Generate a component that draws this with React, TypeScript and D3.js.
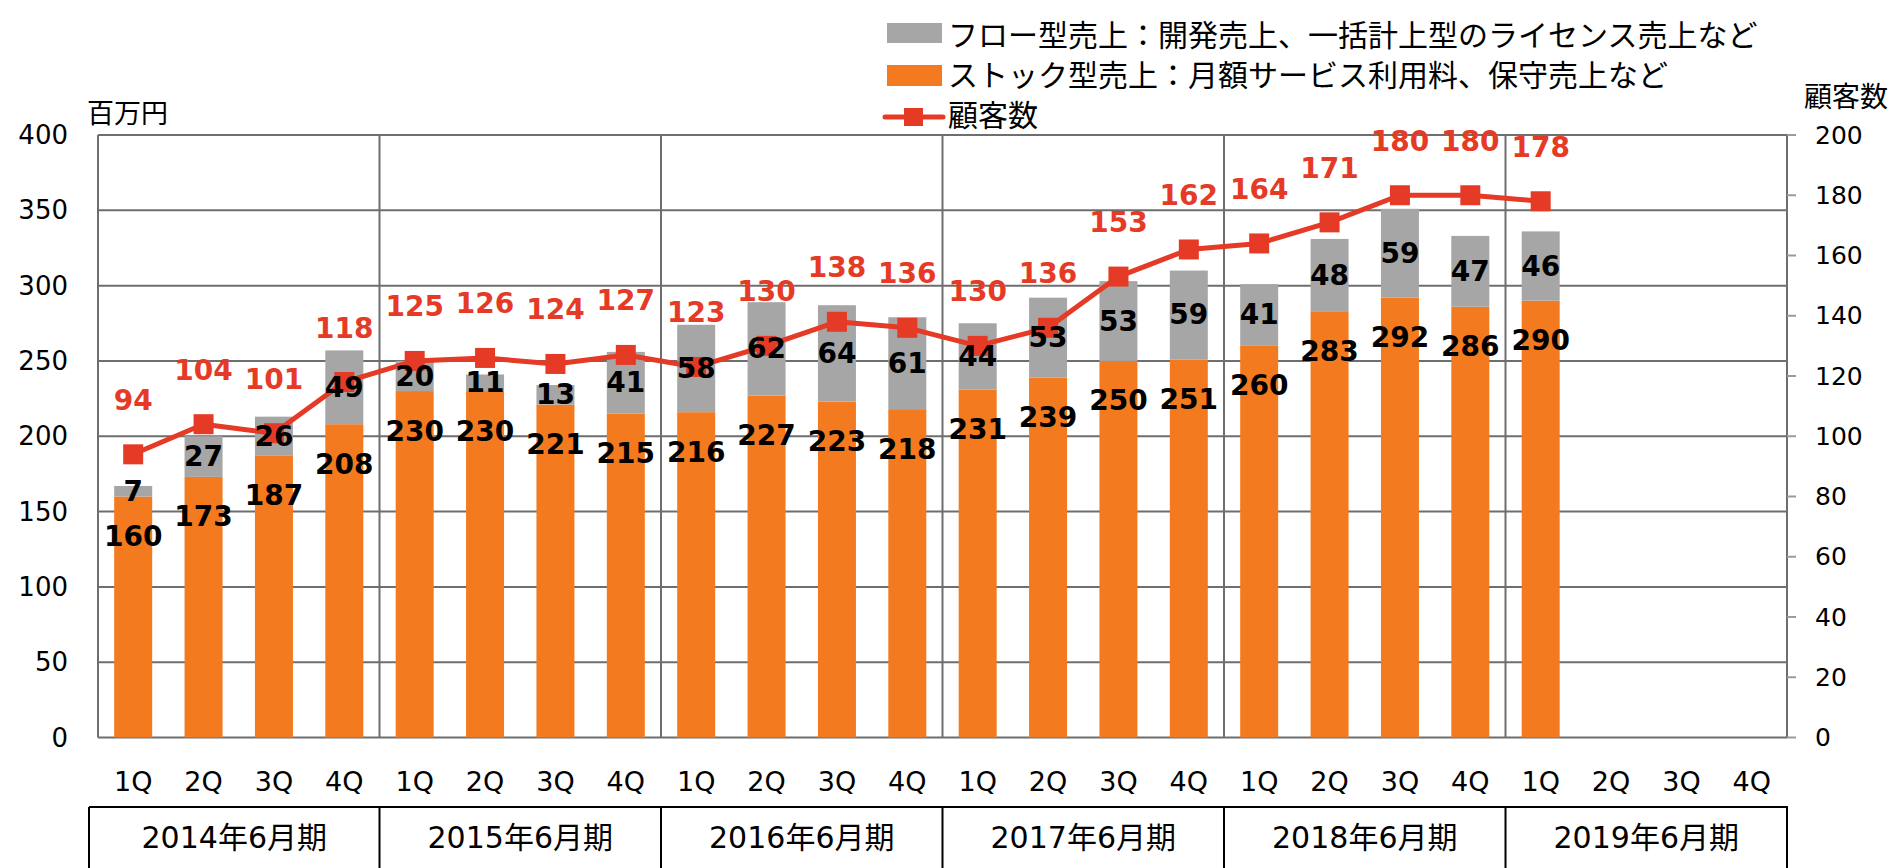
import React from "react";
import * as d3 from "d3";

const years = ["2014年6月期", "2015年6月期", "2016年6月期", "2017年6月期", "2018年6月期", "2019年6月期"];
const quarters = ["1Q", "2Q", "3Q", "4Q"];
const stockSales = [160, 173, 187, 208, 230, 230, 221, 215, 216, 227, 223, 218, 231, 239, 250, 251, 260, 283, 292, 286, 290];
const flowSales = [7, 27, 26, 49, 20, 11, 13, 41, 58, 62, 64, 61, 44, 53, 53, 59, 41, 48, 59, 47, 46];
const customers = [94, 104, 101, 118, 125, 126, 124, 127, 123, 130, 138, 136, 130, 136, 153, 162, 164, 171, 180, 180, 178];
const leftTicks = [0, 50, 100, 150, 200, 250, 300, 350, 400];
const rightTicks = [0, 20, 40, 60, 80, 100, 120, 140, 160, 180, 200];
const legendItems = [
  "フロー型売上：開発売上、一括計上型のライセンス売上など",
  "ストック型売上：月額サービス利用料、保守売上など",
  "顧客数",
];

const W = 1893;
const H = 868;
const GRAY = "#a6a6a6";
const ORANGE = "#f47a20";
const RED = "#e53a26";
const GRID = "#6e6e6e";
const FONT = "'DejaVu Sans', 'Noto Sans CJK JP', sans-serif";
const JFONT = "'Noto Sans CJK JP', 'DejaVu Sans', sans-serif";

export default function App() {
  const slots = d3.range(years.length * quarters.length);
  const left = 98, right = 1787, top = 135, bottom = 737.5;
  const pi = 0.46;
  const x = d3.scaleBand<number>().domain(slots).range([left, right]).paddingInner(pi).paddingOuter(pi / 2);
  const yL = d3.scaleLinear().domain([0, 400]).range([bottom, top]);
  const yR = d3.scaleLinear().domain([0, 200]).range([bottom, top]);
  const bw = x.bandwidth();
  const step = x.step();
  const cx = (i: number) => (x(i) as number) + bw / 2;
  const yearEdge = (k: number) => left + k * 4 * step;

  const line = d3.line<number>().x((_, i) => cx(i)).y((d) => yR(d));

  const tableTop = 807;
  const tableLeft = 89;

  return (
    <svg width={W} height={H} style={{ position: "absolute", left: 0, top: 0, background: "#fff" }}>
      {leftTicks.map((t) => (
        <line key={"g" + t} x1={left} x2={right} y1={yL(t)} y2={yL(t)} stroke={GRID} strokeWidth={2} />
      ))}
      {d3.range(years.length + 1).map((k) => (
        <line key={"v" + k} x1={yearEdge(k)} x2={yearEdge(k)} y1={top} y2={bottom} stroke={GRID} strokeWidth={2} />
      ))}
      {rightTicks.map((t) => (
        <line key={"rt" + t} x1={right} x2={right + 9} y1={yR(t)} y2={yR(t)} stroke="#9a9a9a" strokeWidth={2} />
      ))}
      {stockSales.map((v, i) => (
        <g key={"b" + i}>
          <rect x={x(i)} width={bw} y={yL(v)} height={yL(0) - yL(v)} fill={ORANGE} />
          <rect x={x(i)} width={bw} y={yL(v + flowSales[i])} height={yL(v) - yL(v + flowSales[i])} fill={GRAY} />
        </g>
      ))}
      <path d={line(customers) || ""} fill="none" stroke={RED} strokeWidth={5} strokeLinejoin="round" />
      {customers.map((v, i) => (
        <rect key={"m" + i} x={cx(i) - 10} y={yR(v) - 10} width={20} height={20} fill={RED} />
      ))}
      {stockSales.map((v, i) => (
        <text key={"sl" + i} x={cx(i)} y={yL(v) + 40} textAnchor="middle" dominantBaseline="central"
          fontFamily={FONT} fontWeight="bold" fontSize={28} fill="#000">{v}</text>
      ))}
      {flowSales.map((v, i) => (
        <text key={"fl" + i} x={cx(i)} y={yL(stockSales[i] + v / 2)} textAnchor="middle" dominantBaseline="central"
          fontFamily={FONT} fontWeight="bold" fontSize={28} fill="#000">{v}</text>
      ))}
      {customers.map((v, i) => (
        <text key={"cl" + i} x={cx(i)} y={yR(v) - 54} textAnchor="middle" dominantBaseline="central"
          fontFamily={FONT} fontWeight="bold" fontSize={28} fill={RED}>{v}</text>
      ))}
      {leftTicks.map((t) => (
        <text key={"lt" + t} x={68} y={yL(t)} textAnchor="end" dominantBaseline="central"
          fontFamily={FONT} fontSize={26} fill="#000">{t}</text>
      ))}
      {rightTicks.map((t) => (
        <text key={"rl" + t} x={1815} y={yR(t)} textAnchor="start" dominantBaseline="central"
          fontFamily={FONT} fontSize={25} fill="#000">{t}</text>
      ))}
      <text x={87} y={111} dominantBaseline="central" fontFamily={JFONT} fontSize={27} fill="#000">百万円</text>
      <text x={1888} y={95} textAnchor="end" dominantBaseline="central" fontFamily={JFONT} fontSize={28} fill="#000">顧客数</text>
      {slots.map((i) => (
        <text key={"q" + i} x={cx(i)} y={781} textAnchor="middle" dominantBaseline="central"
          fontFamily={FONT} fontSize={27} fill="#000">{quarters[i % 4]}</text>
      ))}
      <line x1={tableLeft} x2={yearEdge(years.length) + 1} y1={tableTop} y2={tableTop} stroke="#000" strokeWidth={2} />
      {d3.range(years.length + 1).map((k) => {
        const xx = k === 0 ? tableLeft : yearEdge(k);
        return <line key={"tv" + k} x1={xx} x2={xx} y1={tableTop} y2={H} stroke="#000" strokeWidth={2} />;
      })}
      {years.map((yname, k) => {
        const x0 = k === 0 ? tableLeft : yearEdge(k);
        const x1 = yearEdge(k + 1);
        return (
          <text key={"y" + k} x={(x0 + x1) / 2} y={837} textAnchor="middle" dominantBaseline="central"
            fontFamily={FONT} fontSize={30} fill="#000">{yname}</text>
        );
      })}
      <rect x={887} y={23} width={55} height={20} fill={GRAY} />
      <rect x={887} y={65} width={55} height={21} fill={ORANGE} />
      <line x1={885} x2={943} y1={117} y2={117} stroke={RED} strokeWidth={5} strokeLinecap="round" />
      <rect x={904} y={108} width={19} height={18} fill={RED} />
      {legendItems.map((t, i) => (
        <text key={"lg" + i} x={948} y={33 + i * 40} dominantBaseline="central"
          fontFamily={JFONT} fontSize={30} fill="#000">{t}</text>
      ))}
    </svg>
  );
}
